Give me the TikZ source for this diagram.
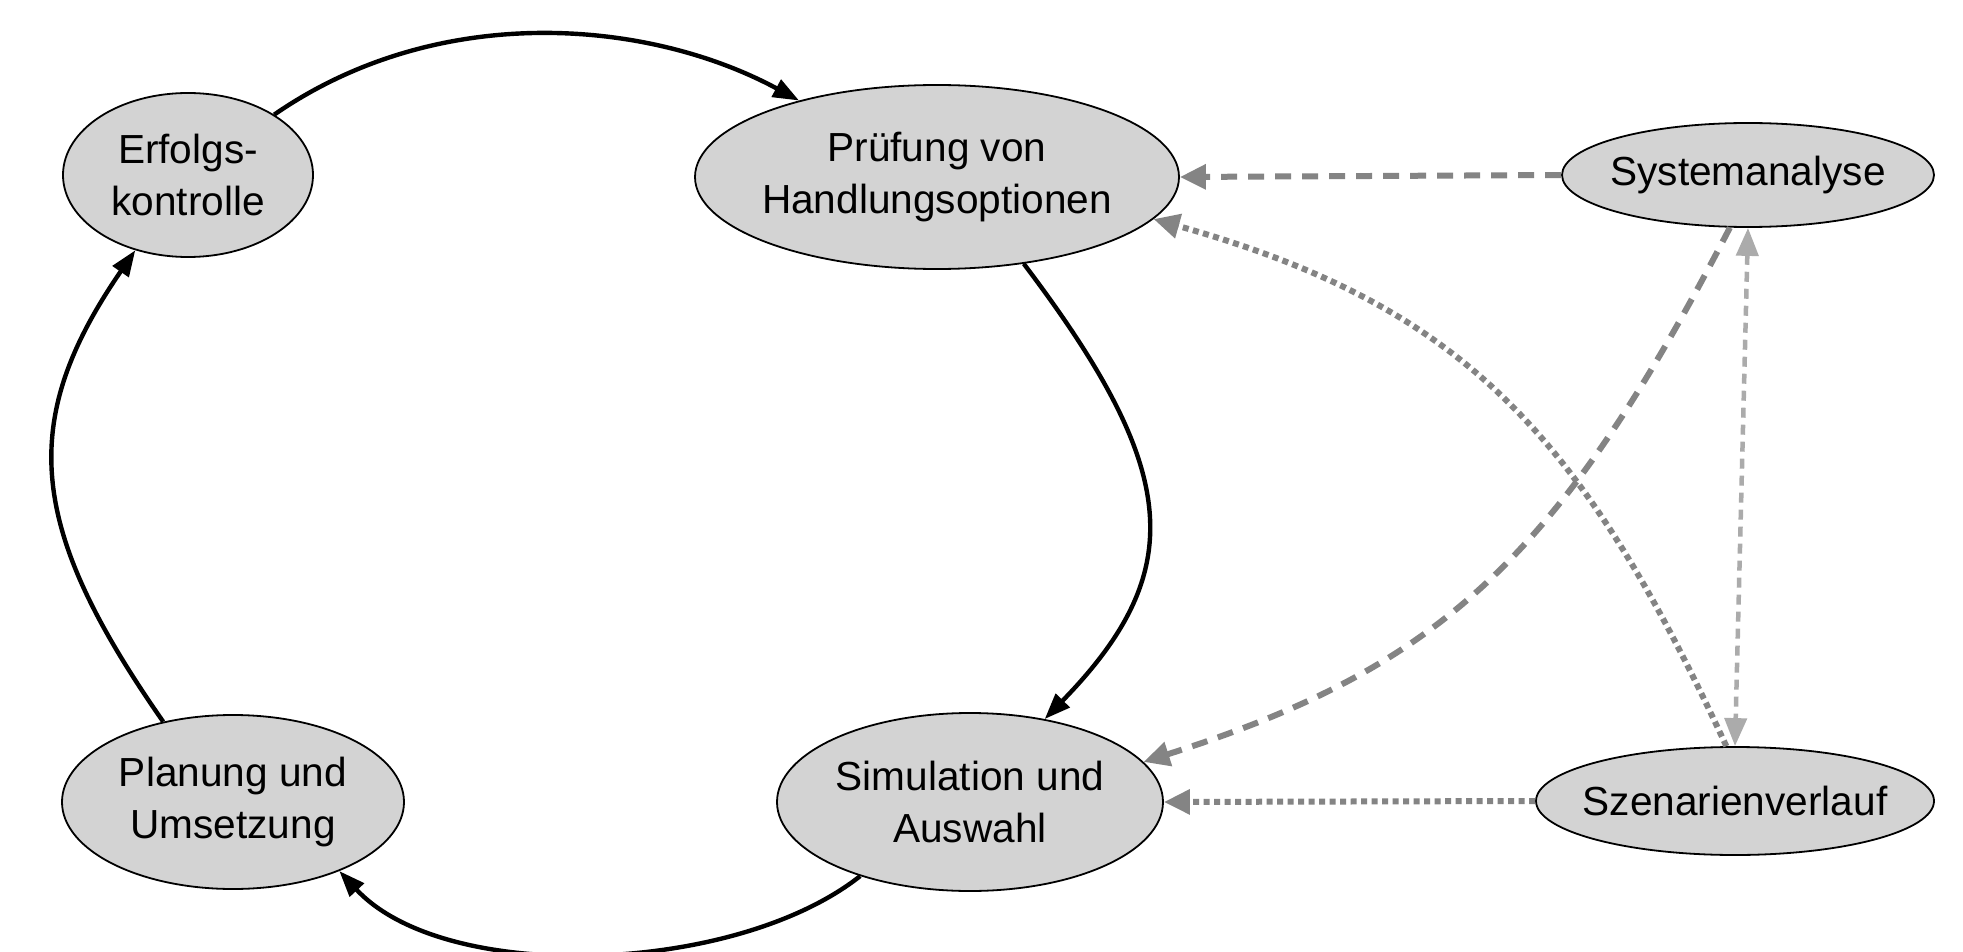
\documentclass[tikz,border=0pt]{standalone}
\usepackage{fontspec}
\setmainfont{Liberation Sans}
\usetikzlibrary{arrows.meta,shapes.geometric}
\definecolor{nodefill}{HTML}{D3D3D3}
\definecolor{dgray}{HTML}{848484}
\definecolor{lgray}{HTML}{ABABAB}
\begin{document}
\begin{tikzpicture}[x=1pt,y=-1pt,
  state/.style={ellipse,draw=black,line width=1.8pt,fill=nodefill,inner xsep=-30pt,inner ysep=0pt,align=center,font=\fontsize{40.6}{52}\selectfont},
  flow/.style={line width=4.4pt,-{Triangle[length=26pt,width=19pt]}},
  dashlink/.style={dgray,line width=6pt,dash pattern=on 16pt off 11pt,-{Triangle[length=26pt,width=24pt]}},
  dotlink/.style={dgray,line width=6pt,dash pattern=on 6pt off 4.5pt,-{Triangle[length=26pt,width=24pt]}},
  lightlink/.style={lgray,line width=4.5pt,dash pattern=on 10pt off 7pt,{Triangle[length=28pt,width=22pt]}-{Triangle[length=28pt,width=22pt]}}]
\useasboundingbox[fill=white] (0,0) rectangle (1963,952);
\node[state, minimum width=250pt, minimum height=164pt] (E) at (188,175) {Erfolgs-\\kontrolle};
\node[state, minimum width=484pt, minimum height=184pt] (P) at (937,177) {Prüfung von\\Handlungsoptionen};
\node[state, minimum width=342pt, minimum height=174pt] (Pl) at (233,802) {Planung und\\Umsetzung};
\node[state, minimum width=386pt, minimum height=178pt] (Sim) at (970,802) {Simulation und\\Auswahl};
\node[state, minimum width=372pt, minimum height=104pt] (Sys) at (1748,175) {Systemanalyse};
\node[state, minimum width=398pt, minimum height=108pt] (Sz) at (1735,801) {Szenarienverlauf};
\draw[flow] (E.35) .. controls (440,0) and (650,20) .. (P.151);
\draw[flow] (P.-45) .. controls (1180,470) and (1190,570) .. (Sim.48);
\draw[flow] (Sim.214) .. controls (735,975) and (445,985) .. (Pl.-33);
\draw[flow] (Pl.131) .. controls (28,528) and (17,422) .. (E.235);
\draw[dashlink] (Sys.west) -- (P.east);
\draw[dotlink] (Sz.99) .. controls (1580,430) and (1460,305) .. (P.-11);
\draw[dashlink] (Sys.251) .. controls (1558,560) and (1439,668) .. (Sim.13);
\draw[dotlink] (Sz.west) -- (Sim.east);
\draw[lightlink] (Sys.south) -- (Sz.north);
\end{tikzpicture}
\end{document}
